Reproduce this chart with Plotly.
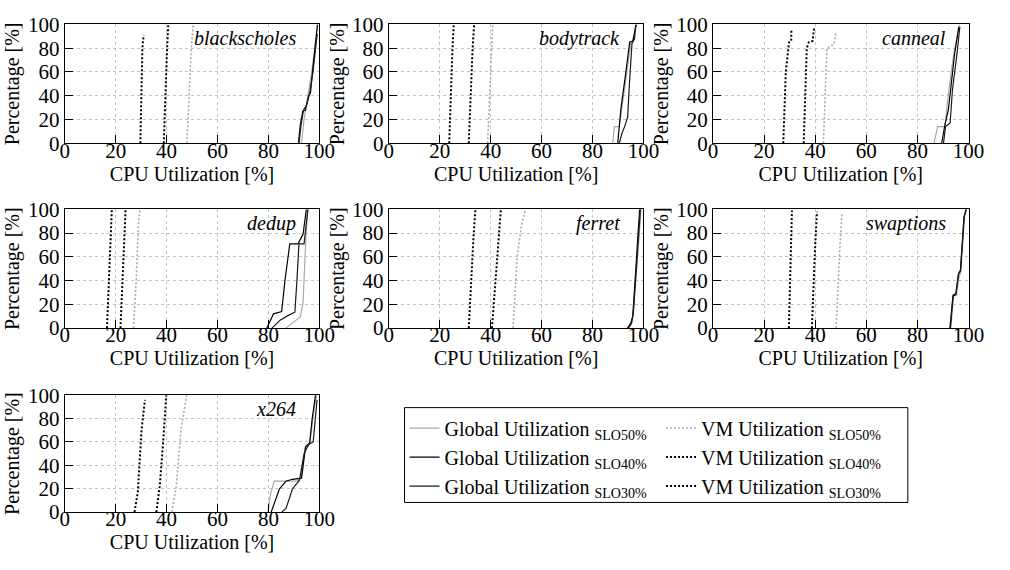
import plotly.graph_objects as go

# ---------------- data (x = CPU utilization %, y = cumulative percentage %) -------------
benchmarks = ["blackscholes", "bodytrack", "canneal", "dedup", "ferret", "swaptions", "x264"]

# blackscholes
bs_g50_x = [93.0, 94.0, 95.5, 97.0, 98.2, 99.2]
bs_g50_y = [0, 20, 40, 60, 80, 100]
bs_g40_x = [91.8, 92.5, 93.5, 94.5, 95.8, 96.5, 97.8, 98.7, 99.3]
bs_g40_y = [0, 15, 27, 28, 40, 42, 70, 90, 100]
bs_g30_x = [92.0, 92.8, 93.8, 95.0, 96.2, 97.5, 98.8, 99.2]
bs_g30_y = [0, 15, 28, 32, 42, 60, 85, 92]
bs_v50_x = [48.0, 48.8, 49.7, 50.5]
bs_v50_y = [0, 40, 80, 100]
bs_v40_x = [38.9, 39.5, 40.2, 40.7]
bs_v40_y = [0, 40, 80, 100]
bs_v30_x = [29.7, 30.0, 30.5, 31.0]
bs_v30_y = [0, 40, 80, 91]

# bodytrack
bt_g50_x = [87.9, 88.6, 90.5, 92.0, 93.5, 95.0, 96.0, 97.0]
bt_g50_y = [0, 14, 14, 35, 60, 85, 86, 100]
bt_g40_x = [89.9, 91.2, 92.8, 94.0, 94.6, 95.8, 97.2]
bt_g40_y = [0, 30, 55, 76, 85, 86, 100]
bt_g30_x = [90.5, 91.5, 92.6, 93.8, 94.5, 95.5, 96.5, 97.0]
bt_g30_y = [0, 8, 14, 22, 50, 84, 88, 100]
bt_v50_x = [38.8, 39.5, 40.2, 40.8]
bt_v50_y = [0, 40, 80, 100]
bt_v40_x = [31.4, 32.1, 32.9, 33.5]
bt_v40_y = [0, 40, 80, 100]
bt_v30_x = [23.7, 24.3, 25.0, 25.5]
bt_v30_y = [0, 40, 80, 100]

# canneal
cn_g50_x = [86.5, 87.9, 90.8, 92.0, 94.0, 95.8, 96.4]
cn_g50_y = [0, 14, 14, 40, 72, 95, 100]
cn_g40_x = [89.5, 90.8, 92.1, 93.3, 94.6, 96.2]
cn_g40_y = [0, 16, 28, 50, 76, 98]
cn_g30_x = [90.2, 91.0, 92.8, 93.7, 95.3, 96.6]
cn_g30_y = [0, 14, 17, 45, 72, 98]
cn_v50_x = [43.2, 43.8, 44.6, 46.0, 47.2, 48.2]
cn_v50_y = [0, 40, 80, 82, 83, 94]
cn_v40_x = [35.5, 36.0, 36.7, 37.5, 39.0, 39.6]
cn_v40_y = [0, 40, 80, 85, 86, 98]
cn_v30_x = [27.5, 28.0, 28.5, 29.5, 29.8, 30.6, 30.7]
cn_v30_y = [0, 40, 60, 80, 85, 86, 96]

# dedup
dd_g50_x = [86.8, 89.1, 91.5, 92.5, 93.6, 94.2, 94.8, 95.5]
dd_g50_y = [0, 4, 8, 9.4, 21, 60, 80, 100]
dd_g40_x = [79.4, 80.5, 82.0, 85.2, 86.5, 88.4, 91.6, 93.6, 94.9]
dd_g40_y = [0, 5, 12, 14, 40, 71, 71, 79, 100]
dd_g30_x = [81.4, 84.6, 87.8, 90.4, 91.2, 92.0, 94.0, 94.6, 95.5]
dd_g30_y = [0, 6.7, 10.7, 13.4, 40, 71, 71, 85, 100]
dd_v50_x = [27.0, 28.0, 29.0, 29.6]
dd_v50_y = [0, 37, 90, 100]
dd_v40_x = [21.9, 22.6, 23.3, 23.9]
dd_v40_y = [0, 40, 80, 100]
dd_v30_x = [16.6, 17.3, 18.0, 18.5]
dd_v30_y = [0, 40, 80, 100]

# ferret
fr_g50_x = [94.5, 95.5, 96.3, 97.0, 98.0, 99.1]
fr_g50_y = [0, 5, 20, 40, 70, 100]
fr_g40_x = [93.7, 95.0, 95.8, 96.4, 97.3, 98.5]
fr_g40_y = [0, 4, 10, 30, 60, 100]
fr_g30_x = [94.0, 95.3, 96.0, 96.8, 97.6, 98.8]
fr_g30_y = [0, 4, 12, 35, 65, 100]
fr_v50_x = [48.8, 49.6, 50.4, 52.0, 53.6]
fr_v50_y = [0, 30, 60, 85, 100]
fr_v40_x = [40.5, 41.3, 42.0, 43.0, 44.0]
fr_v40_y = [0, 25, 45, 75, 100]
fr_v30_x = [31.4, 31.9, 32.4, 33.2, 34.0]
fr_v30_y = [0, 25, 45, 75, 100]

# swaptions
sw_g50_x = [93.0, 94.2, 95.3, 96.2, 97.0, 97.6, 98.5, 99.2]
sw_g50_y = [0, 27, 28, 42, 48, 70, 95, 100]
sw_g40_x = [92.7, 93.9, 95.0, 96.0, 96.8, 97.4, 98.2, 99.0]
sw_g40_y = [0, 27, 28, 45, 48, 70, 93, 100]
sw_g30_x = [92.9, 94.0, 95.1, 96.1, 96.9, 97.5, 98.3, 99.1]
sw_g30_y = [0, 28, 29, 46, 49, 72, 94, 100]
sw_v50_x = [48.2, 48.9, 49.7, 50.5]
sw_v50_y = [0, 35, 70, 97]
sw_v40_x = [38.7, 39.3, 40.0, 40.7]
sw_v40_y = [0, 35, 70, 98]
sw_v30_x = [29.7, 30.1, 30.5, 30.9]
sw_v30_y = [0, 35, 70, 99]

# x264
x2_g50_x = [79.8, 80.8, 82.3, 91.3, 93.0, 94.5, 96.2, 97.5, 98.2, 99.0]
x2_g50_y = [0, 15, 26.5, 26.5, 30, 55, 58, 80, 92, 100]
x2_g40_x = [81.1, 82.5, 84.3, 86.9, 89.4, 93.0, 94.6, 96.2, 97.2, 98.5]
x2_g40_y = [0, 8, 19.6, 26.4, 28, 29, 56, 59, 80, 100]
x2_g30_x = [85.3, 86.9, 88.3, 89.4, 91.0, 92.2, 94.0, 95.9, 97.6, 98.3, 99.1]
x2_g30_y = [0, 3, 12, 19.6, 24, 27, 50, 58, 60, 80, 96]
x2_v50_x = [42.1, 43.8, 45.7, 47.9]
x2_v50_y = [0, 22, 71, 100]
x2_v40_x = [36.0, 37.3, 38.6, 39.9]
x2_v40_y = [0, 22, 58, 100]
x2_v30_x = [27.4, 28.7, 30.2, 31.5]
x2_v30_y = [0, 17, 71, 96]

series_names = [
    "Global Utilization <sub>SLO50%</sub>",
    "Global Utilization <sub>SLO40%</sub>",
    "Global Utilization <sub>SLO30%</sub>",
    "VM Utilization <sub>SLO50%</sub>",
    "VM Utilization <sub>SLO40%</sub>",
    "VM Utilization <sub>SLO30%</sub>",
]

panel_data = [
    [(bs_g50_x, bs_g50_y), (bs_g40_x, bs_g40_y), (bs_g30_x, bs_g30_y),
     (bs_v50_x, bs_v50_y), (bs_v40_x, bs_v40_y), (bs_v30_x, bs_v30_y)],
    [(bt_g50_x, bt_g50_y), (bt_g40_x, bt_g40_y), (bt_g30_x, bt_g30_y),
     (bt_v50_x, bt_v50_y), (bt_v40_x, bt_v40_y), (bt_v30_x, bt_v30_y)],
    [(cn_g50_x, cn_g50_y), (cn_g40_x, cn_g40_y), (cn_g30_x, cn_g30_y),
     (cn_v50_x, cn_v50_y), (cn_v40_x, cn_v40_y), (cn_v30_x, cn_v30_y)],
    [(dd_g50_x, dd_g50_y), (dd_g40_x, dd_g40_y), (dd_g30_x, dd_g30_y),
     (dd_v50_x, dd_v50_y), (dd_v40_x, dd_v40_y), (dd_v30_x, dd_v30_y)],
    [(fr_g50_x, fr_g50_y), (fr_g40_x, fr_g40_y), (fr_g30_x, fr_g30_y),
     (fr_v50_x, fr_v50_y), (fr_v40_x, fr_v40_y), (fr_v30_x, fr_v30_y)],
    [(sw_g50_x, sw_g50_y), (sw_g40_x, sw_g40_y), (sw_g30_x, sw_g30_y),
     (sw_v50_x, sw_v50_y), (sw_v40_x, sw_v40_y), (sw_v30_x, sw_v30_y)],
    [(x2_g50_x, x2_g50_y), (x2_g40_x, x2_g40_y), (x2_g30_x, x2_g30_y),
     (x2_v50_x, x2_v50_y), (x2_v40_x, x2_v40_y), (x2_v30_x, x2_v30_y)],
]

tick_vals = [0, 20, 40, 60, 80, 100]
tick_text = ["0", "20", "40", "60", "80", "100"]

# ---------------- styling ----------------
W, H = 1010, 570
FONT = "Liberation Serif"
line_styles = [
    dict(color="#a8a8a8", width=1.2, dash="solid"),
    dict(color="#000000", width=1.2, dash="solid"),
    dict(color="#1a1a1a", width=1.2, dash="solid"),
    dict(color="#a8a8a8", width=1.6, dash="2px,2px"),
    dict(color="#000000", width=2.0, dash="2px,2px"),
    dict(color="#000000", width=2.0, dash="2px,2px"),
]
legend_ids = ["legend", "legend", "legend", "legend2", "legend2", "legend2"]

# panel pixel boxes (left, right, top, bottom)
cols_px = [(61, 321), (392, 652), (723, 984)]
rows_px = [(13, 137), (206, 330), (400, 522)]
positions = [(0, 0), (0, 1), (0, 2), (1, 0), (1, 1), (1, 2), (2, 0)]

fig = go.Figure()
layout = {}
annotations = []

for i, (name, series) in enumerate(zip(benchmarks, panel_data)):
    r, c = positions[i]
    l, rr = cols_px[c]
    t, b = rows_px[r]
    xa = "xaxis" if i == 0 else f"xaxis{i+1}"
    ya = "yaxis" if i == 0 else f"yaxis{i+1}"
    xref = "x" if i == 0 else f"x{i+1}"
    yref = "y" if i == 0 else f"y{i+1}"
    common = dict(
        range=[0, 100], tickmode="array", tickvals=tick_vals, ticktext=tick_text,
        ticks="inside", ticklen=8, tickwidth=1, tickcolor="black",
        showline=True, linecolor="black", linewidth=1.2, mirror=True,
        showgrid=True, gridcolor="#c4c4c4", gridwidth=1, griddash="3px,3px",
        zeroline=False, tickfont=dict(family=FONT, size=21, color="black"),
        fixedrange=True,
    )
    layout[xa] = dict(common, domain=[l / W, rr / W], anchor=yref,
                      ticklabelstandoff=-12,
                      title=dict(text="CPU Utilization [%]",
                                 font=dict(family=FONT, size=20, color="black"),
                                 standoff=0))
    layout[ya] = dict(common, domain=[1 - b / H, 1 - t / H], anchor=xref,
                      title=dict(text="Percentage [%]",
                                 font=dict(family=FONT, size=20, color="black"),
                                 standoff=2))
    for k, (sx, sy) in enumerate(series):
        fig.add_trace(go.Scatter(
            x=sx, y=sy, mode="lines", name=series_names[k],
            line=line_styles[k], xaxis=xref, yaxis=yref,
            legend=legend_ids[k], showlegend=(i == 0), hoverinfo="skip",
        ))
    annotations.append(dict(
        text=f"<i>{name}</i>", xref=f"{xref} domain", yref=f"{yref} domain",
        x=1, y=1, xanchor="right", yanchor="middle", xshift=-21, yshift=-14,
        showarrow=False, font=dict(family=FONT, size=20, color="black"),
    ))

legend_font = dict(family=FONT, size=20, color="black")
fig.update_layout(
    width=W, height=H,
    margin=dict(l=0, r=0, t=0, b=0),
    paper_bgcolor="white", plot_bgcolor="white",
    font=dict(family=FONT, color="black"),
    annotations=annotations,
    legend=dict(x=408 / W, y=1 - 414 / H, xanchor="left", yanchor="top",
                bgcolor="rgba(0,0,0,0)", font=legend_font, traceorder="normal"),
    legend2=dict(x=670 / W, y=1 - 414 / H, xanchor="left", yanchor="top",
                 bgcolor="rgba(0,0,0,0)", font=legend_font, traceorder="normal"),
    shapes=[dict(type="rect", xref="paper", yref="paper",
                 x0=408 / W, x1=922 / W, y0=1 - 512 / H, y1=1 - 413 / H,
                 line=dict(color="black", width=1), fillcolor="rgba(0,0,0,0)")],
    **layout,
)

fig.write_html("out.html")
